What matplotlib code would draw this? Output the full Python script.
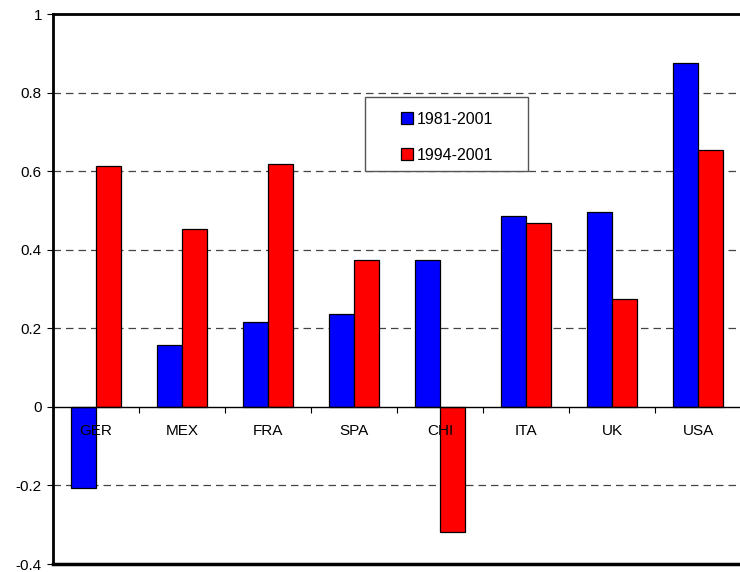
import numpy as np
import matplotlib
matplotlib.use("Agg")
import matplotlib.pyplot as plt
from matplotlib.patches import Rectangle

plt.rcParams['font.family'] = ['Liberation Sans', 'DejaVu Sans']

# Data
countries = ['GER', 'MEX', 'FRA', 'SPA', 'CHI', 'ITA', 'UK', 'USA']
period_long = [-0.206, 0.158, 0.215, 0.236, 0.373, 0.485, 0.496, 0.874]
period_short = [0.613, 0.453, 0.619, 0.373, -0.319, 0.469, 0.275, 0.655]
labels = ['1981-2001', '1994-2001']
y_ticks = [-0.4, -0.2, 0, 0.2, 0.4, 0.6, 0.8, 1]

fig = plt.figure(figsize=(7.4, 5.72), dpi=100)
ax = fig.add_axes([53 / 740, 8 / 572, 688 / 740, 550 / 572])
ax.set_axisbelow(False)

x = np.arange(len(countries))
w = 0.29

# gridlines
for t in y_ticks:
    if t not in (0, 1, -0.4):
        ax.axhline(t, color='#444444', linestyle=(0, (6, 4)), linewidth=0.9, zorder=0)

ax.bar(x - w / 2, period_long, w, color='#0000ff', edgecolor='black', linewidth=0.9,
       label=labels[0], zorder=2)
ax.bar(x + w / 2, period_short, w, color='#ff0000', edgecolor='black', linewidth=0.9,
       label=labels[1], zorder=2)

ax.set_xlim(-0.5, len(countries) - 0.5)
ax.set_ylim(-0.4, 1)

# x axis sits at zero, bottom frame at -0.4
ax.spines['bottom'].set_position(('data', 0))
ax.spines['bottom'].set_linewidth(1)
ax.spines['right'].set_visible(False)
ax.spines['left'].set_linewidth(2)
ax.spines['top'].set_linewidth(2)
ax.axhline(-0.4, color='black', linewidth=2.5, clip_on=False)

ax.set_xticks(np.arange(len(countries) - 1) + 0.5)
ax.set_xticklabels([])
ax.tick_params(axis='x', which='major', direction='out', length=4, width=0.8)
ax.set_xticks(x, minor=True)
ax.set_xticklabels(countries, minor=True, fontsize=11)
ax.tick_params(axis='x', which='minor', length=0, pad=12)

ax.set_yticks(y_ticks)
ax.set_yticklabels(['-0.4', '-0.2', '0', '0.2', '0.4', '0.6', '0.8', '1'], fontsize=11)
ax.tick_params(axis='y', direction='out', length=4, width=0.8, pad=4)

# legend box
ax.add_patch(Rectangle((0.454, 0.715), 0.237, 0.135, transform=ax.transAxes,
                       facecolor='white', edgecolor='#555555', linewidth=1, zorder=4))
leg = ax.legend(loc='center', bbox_to_anchor=(0.5725, 0.776),
                fontsize=11.5, frameon=False,
                handlelength=0.75, handleheight=0.75, handletextpad=0.2,
                labelspacing=1.3, borderpad=0, borderaxespad=0)
leg.set_zorder(5)

fig.savefig('out.png', dpi=100)
